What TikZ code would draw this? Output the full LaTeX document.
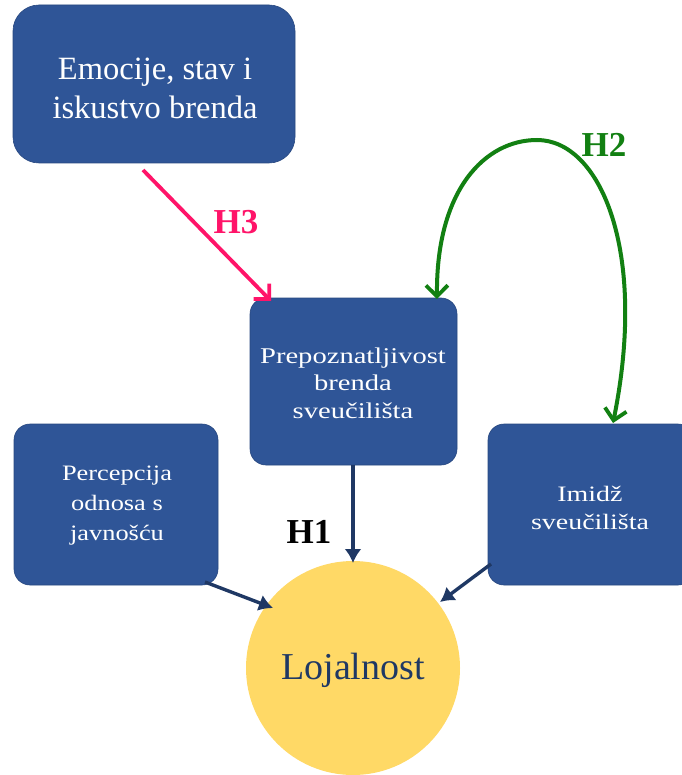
\documentclass[tikz,border=0pt]{standalone}
\usepackage{fontspec}
\setmainfont{Liberation Serif}
\newfontfamily\widefont[FakeStretch=1.27]{Liberation Serif}
\newfontfamily\midfont[FakeStretch=1.2]{Liberation Serif}
\usetikzlibrary{arrows.meta}
\definecolor{boxblue}{RGB}{47,85,151}
\definecolor{navy}{RGB}{31,56,100}
\definecolor{gold}{RGB}{255,217,102}
\definecolor{hgreen}{RGB}{18,128,18}
\definecolor{hpink}{RGB}{255,20,105}
\tikzset{
  box/.style={draw=boxblue!85!black, line width=0.6pt, fill=boxblue, rounded corners=16pt, text=white, align=center, inner sep=0pt},
  navyarrow/.style={draw=navy, line width=3.4pt, -{Latex[length=14pt,width=17pt]}},
  barbtip/.tip={Straight Barb[length=11pt,width=22pt,line width=3.8pt]},
  hlabel/.style={font=\fontsize{35}{40}\selectfont\bfseries, inner sep=0pt}
}
\begin{document}
\begin{tikzpicture}[x=1pt,y=-1pt]
\useasboundingbox (0,0) rectangle (681,775);
\fill[white] (0,0) rectangle (681,775);
% boxes
\node[box, rounded corners=26pt, minimum width=282pt, minimum height=158pt] (emo) at (154,84) {};
\node[box, minimum width=207pt, minimum height=167pt] (prep) at (353.5,381.5) {};
\node[box, minimum width=204pt, minimum height=161pt] (perc) at (116,504.5) {};
\node[box, minimum width=206pt, minimum height=161pt] (imi) at (591,504.5) {};
\node[circle, fill=gold, minimum size=214pt, inner sep=0pt] (loj) at (353,668) {};
% texts
\node[text=white, align=center, font=\fontsize{32.5}{39}\selectfont] (emot) at (155,88) {Emocije, stav i\\iskustvo brenda};
\node[text=white, align=center, font=\widefont\fontsize{22.5}{27.5}\selectfont] (prept) at (353,383) {Prepoznatljivost\\brenda\\sveučilišta};
\node[text=white, align=center, font=\midfont\fontsize{22}{30}\selectfont] (perct) at (117,506) {Percepcija\\odnosa s\\javnošću};
\node[text=white, align=center, font=\widefont\fontsize{22}{28}\selectfont] (imit) at (590,508) {Imidž\\sveučilišta};
\node[text=navy, font=\fontsize{38}{42}\selectfont] (lojt) at (353,670) {Lojalnost};
% labels
\node[hlabel, text=hpink] (h3) at (236,222) {H3};
\node[hlabel, text=hgreen] (h2) at (604,145) {H2};
\node[hlabel, text=black] (h1) at (309,532) {H1};
% coordinates
\coordinate (e1) at (143,170);
\coordinate (p1) at (271,301);
\coordinate (p2) at (437,299);
\coordinate (i2) at (613,423);
\coordinate (pb) at (353,465);
\coordinate (lt) at (353,563);
\coordinate (pc) at (205,582);
\coordinate (lc) at (273,608);
\coordinate (ic) at (491,564);
\coordinate (lr) at (440,602);
% arrows
\draw[line width=3.8pt, draw=hpink, -barbtip] (e1) -- (p1);
\draw[line width=4pt, draw=hgreen, barbtip-barbtip]
  (p2) .. controls (436,190) and (485,140) .. (537,140)
  .. controls (600,140) and (648,250) .. (i2);
\draw[navyarrow] (pb) -- (lt);
\draw[navyarrow] (pc) -- (lc);
\draw[navyarrow] (ic) -- (lr);
\end{tikzpicture}
\end{document}
